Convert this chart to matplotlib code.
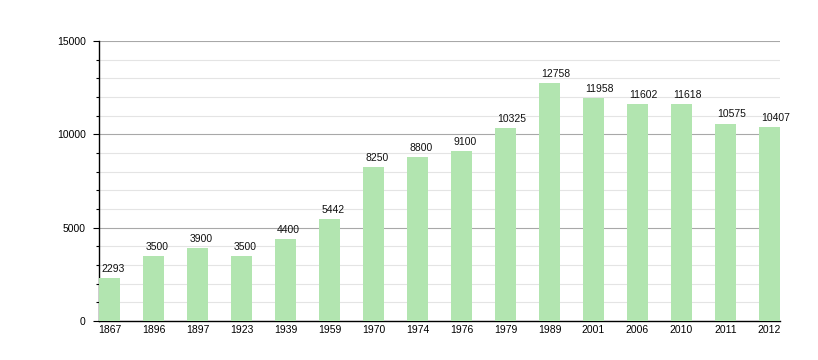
import numpy as np
import matplotlib.pyplot as plt
from matplotlib.ticker import MultipleLocator

years = ["1867", "1896", "1897", "1923", "1939", "1959", "1970", "1974",
         "1976", "1979", "1989", "2001", "2006", "2010", "2011", "2012"]
population = [2293, 3500, 3900, 3500, 4400, 5442, 8250, 8800,
              9100, 10325, 12758, 11958, 11602, 11618, 10575, 10407]

plt.rcParams['font.family'] = ['Liberation Sans', 'DejaVu Sans']

fig = plt.figure(figsize=(8.18, 3.6), dpi=100)
ax = fig.add_axes([99 / 818, 39 / 360, 681 / 818, 280 / 360])

x = np.arange(len(years))
bw = 0.48
ax.bar(x, population, width=bw, align='edge', color='#b2e5b0', zorder=3)

for xi, v in zip(x, population):
    ax.annotate(str(v), (xi + 0.05, v), xytext=(0, 3), textcoords='offset points',
                ha='left', va='bottom', fontsize=7.5, color='#111111', zorder=4)

ax.set_xlim(0, x[-1] + bw)
ax.set_ylim(0, 15000)
ax.set_xticks(x + bw / 2)
ax.set_xticklabels(years)
ax.yaxis.set_major_locator(MultipleLocator(5000))
ax.yaxis.set_minor_locator(MultipleLocator(1000))

ax.grid(axis='y', which='major', color='#a8a8a8', linewidth=0.8, zorder=0)
ax.grid(axis='y', which='minor', color='#e4e4e4', linewidth=0.8, zorder=0)

for s in ['top', 'right']:
    ax.spines[s].set_visible(False)
for s in ['left', 'bottom']:
    ax.spines[s].set_linewidth(1.0)
    ax.spines[s].set_color('black')

ax.tick_params(axis='x', length=0, pad=3, labelsize=7.5)
ax.tick_params(axis='y', which='major', length=4.5, width=0.8, pad=5, labelsize=7.5)
ax.tick_params(axis='y', which='minor', length=2, width=0.8)

fig.savefig('out.png', dpi=100)
